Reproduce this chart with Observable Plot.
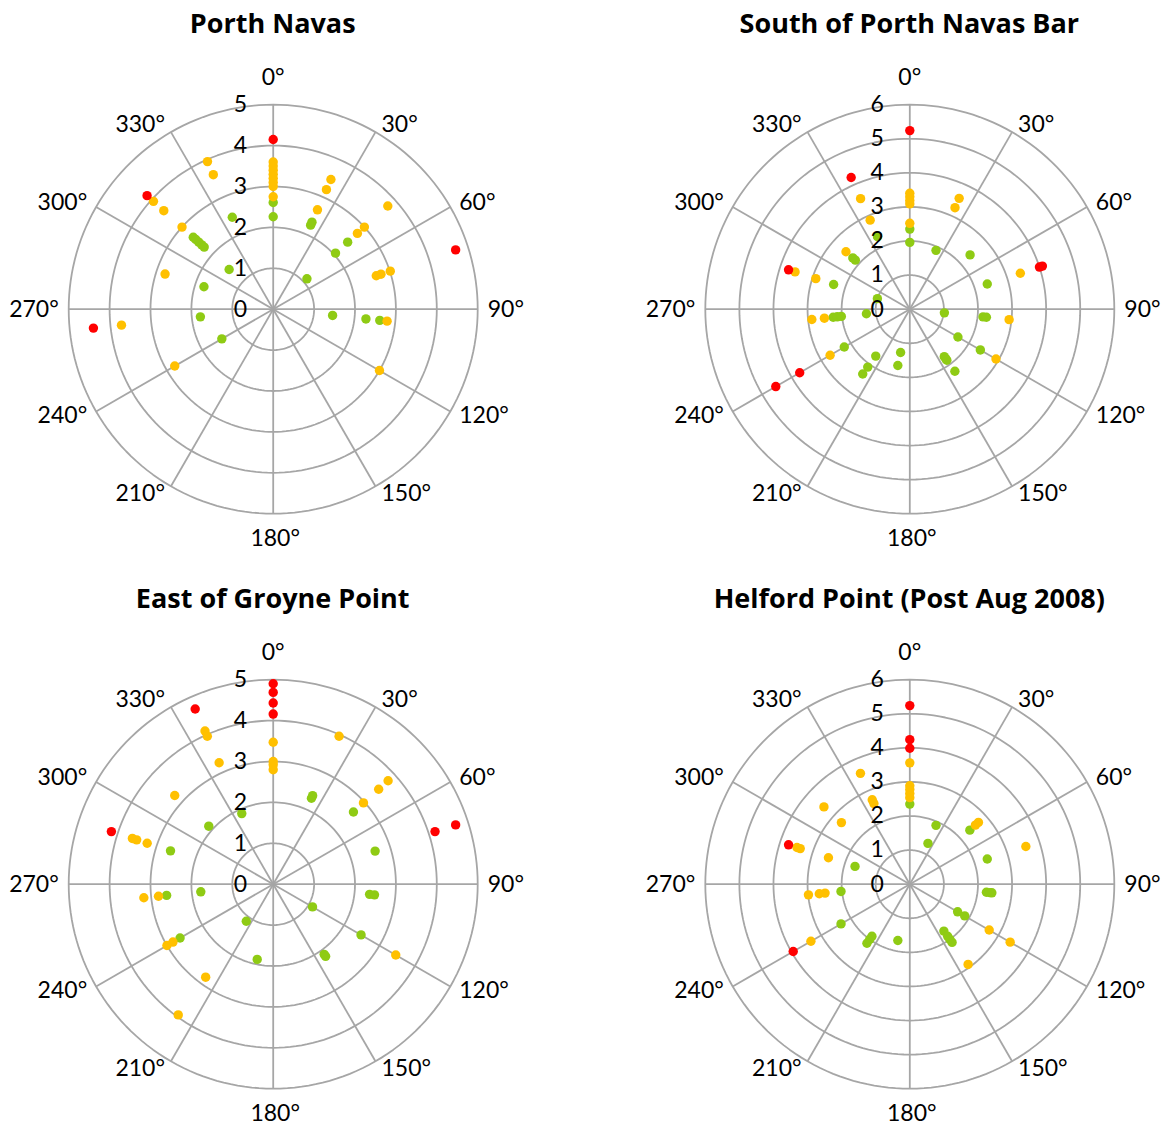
<!DOCTYPE html>
<html>
<head>
<meta charset="utf-8">
<script src="https://cdn.jsdelivr.net/npm/d3@7"></script>
<script src="https://cdn.jsdelivr.net/npm/@observablehq/plot@0.6"></script>
<style>
  html, body { margin: 0; padding: 0; background: #fff; overflow: hidden; }
  #root { position: relative; width: 1166px; height: 1126px; font-family: Lato, "Open Sans", sans-serif; }
  .title { position: absolute; width: 600px; text-align: center; font-family: "Open Sans", Lato, sans-serif; font-weight: bold; font-size: 27px; line-height: 30px; color: #000; }
  svg.panel { position: absolute; overflow: visible; }
</style>
</head>
<body>
<div id="root"></div>
<script>
// ---- Data: [direction in degrees, value] ----
const angleTicks = [0, 30, 60, 90, 120, 150, 180, 210, 240, 270, 300, 330];

const porthNavasRed = [[0,4.15],[312,4.15],[72,4.69],[264,4.42]];
const porthNavasAmber = [[0,3.6],[0,3.5],[0,3.4],[0,3.3],[0,3.2],[0,3.1],[0,3.0],[0,2.75],[336,3.95],[336,3.6],[312,3.94],[312,3.6],[312,3.0],[288,2.78],[264,3.73],[240,2.78],[120,3.0],[96,2.8],[72,2.65],[72,2.77],[72,3.01],[48,3.77],[48,3.0],[48,2.77],[24,3.47],[24,3.2],[24,2.66]];
const porthNavasGreen = [[0,2.61],[0,2.26],[336,2.46],[312,1.45],[312,2.63],[312,2.55],[312,2.45],[312,2.35],[312,2.27],[288,1.78],[264,1.79],[240,1.45],[48,1.11],[48,2.05],[48,2.45],[24,2.25],[24,2.33],[96,1.46],[96,2.28],[96,2.62]];

const southBarRed = [[0,5.24],[336,4.23],[288,3.74],[72,4.0],[72,4.09],[240,3.73],[240,4.54]];
const southBarAmber = [[0,3.4],[0,3.3],[0,3.19],[0,3.09],[0,2.52],[24,3.56],[24,3.26],[336,3.55],[336,2.86],[312,2.52],[288,3.54],[288,2.9],[264,2.89],[264,2.52],[240,2.7],[72,3.41],[96,2.93],[120,2.92]];
const southBarGreen = [[0,2.35],[0,1.96],[336,2.33],[312,2.25],[312,2.15],[288,2.35],[288,1.0],[24,1.89],[48,2.38],[72,2.39],[96,1.02],[96,2.16],[96,2.26],[120,1.63],[120,2.39],[144,1.72],[144,1.8],[144,1.85],[144,2.25],[192,1.3],[192,1.69],[216,1.7],[216,2.1],[216,2.35],[240,2.22],[264,1.28],[264,2.26],[264,2.14],[264,2.02]];

const eastGroyneRed = [[0,4.9],[0,4.69],[0,4.43],[0,4.16],[336,4.69],[288,4.16],[72,4.16],[72,4.69]];
const eastGroyneAmber = [[0,3.47],[0,3.0],[0,2.92],[0,2.8],[24,3.96],[48,3.78],[48,3.47],[48,2.97],[336,4.1],[336,3.96],[336,3.25],[312,3.24],[288,3.62],[288,3.51],[288,3.24],[264,3.18],[264,2.82],[240,3.0],[240,2.83],[216,2.81],[216,3.95],[120,3.46]];
const eastGroyneGreen = [[336,1.89],[312,2.12],[288,2.64],[264,2.62],[264,1.78],[240,2.63],[216,1.12],[192,1.88],[144,2.12],[144,2.18],[120,1.11],[120,2.48],[96,2.37],[96,2.49],[72,2.62],[48,2.64],[24,2.3],[24,2.37]];

const helfordRed = [[0,5.24],[0,4.24],[0,3.99],[288,3.74],[240,3.95]];
const helfordAmber = [[0,3.56],[0,2.89],[0,2.78],[0,2.66],[0,2.54],[48,2.71],[48,2.59],[72,3.58],[120,2.69],[120,3.4],[144,2.91],[336,3.56],[336,2.71],[336,2.59],[312,3.39],[312,2.7],[288,3.48],[288,3.38],[288,2.51],[264,2.99],[264,2.67],[264,2.5],[240,3.35]];
const helfordGreen = [[0,2.35],[24,1.89],[24,1.31],[48,2.37],[72,2.39],[96,2.26],[96,2.36],[96,2.42],[120,1.62],[120,1.86],[144,1.7],[144,1.89],[144,2.0],[144,2.11],[192,1.69],[216,1.89],[216,2.0],[216,2.14],[240,2.33],[264,2.03],[288,1.69]];

const panelTitles = ["Porth Navas", "South of Porth Navas Bar", "East of Groyne Point", "Helford Point (Post Aug 2008)"];
const panelMax = [5, 6, 5, 6];

// ---- Styles ----
const COLORS = {red: "#ff0000", amber: "#ffc000", green: "#8fcb14"};
const GRID = "#a6a6a6";
const FONT = "Lato, 'Open Sans', sans-serif";

const panels = [
  {title: panelTitles[0], max: panelMax[0], red: porthNavasRed, amber: porthNavasAmber, green: porthNavasGreen, col: 0, row: 0},
  {title: panelTitles[1], max: panelMax[1], red: southBarRed, amber: southBarAmber, green: southBarGreen, col: 1, row: 0},
  {title: panelTitles[2], max: panelMax[2], red: eastGroyneRed, amber: eastGroyneAmber, green: eastGroyneGreen, col: 0, row: 1},
  {title: panelTitles[3], max: panelMax[3], red: helfordRed, amber: helfordAmber, green: helfordGreen, col: 1, row: 1}
];

const centersX = [272.7, 909.3];
const centerY0 = 308.7;
const rowStep = 575;
const RAD = 204.5;
const SVG_TOP = 28, SVG_W = 583, SVG_H = 523;

const rad = (a) => a * Math.PI / 180;
const root = document.getElementById("root");

for (const p of panels) {
  const R = p.max;
  const K = RAD / R; // px per unit
  const gcx = centersX[p.col];
  const gcy = centerY0 + p.row * rowStep;
  const left = p.col * SVG_W;
  const top = p.row * rowStep + SVG_TOP;
  const lcx = gcx - left, lcy = gcy - top;

  const ticks = d3.range(0, R + 1);
  const rings = ticks.filter(t => t > 0).flatMap(t => d3.range(0, 361, 2).map(a => ({t, a})));
  const pts = (arr, cat) => arr.map(([a, r]) => ({a, r, cat}));
  const dots = [...pts(p.green, "green"), ...pts(p.amber, "amber"), ...pts(p.red, "red")];

  const vert = angleTicks.filter(a => a % 180 === 0);
  const rightSide = angleTicks.filter(a => a > 0 && a < 180);
  const leftSide = angleTicks.filter(a => a > 180);
  const lx = (a) => { const s = Math.sin(rad(a)); return R * s + Math.sign(s) * (2 + 8 * Math.abs(s)) / K; };
  const ly = (a) => { const c = Math.cos(rad(a)); const off = a === 0 ? 27 : a === 180 ? 24.5 : 9; return c * (R + off / K); };

  const svg = Plot.plot({
    width: SVG_W, height: SVG_H, margin: 0,
    style: {fontFamily: FONT, background: "transparent", color: "#000", overflow: "visible"},
    x: {domain: [-R, R], range: [lcx - RAD, lcx + RAD], axis: null},
    y: {domain: [-R, R], range: [lcy + RAD, lcy - RAD], axis: null},
    marks: [
      Plot.line(rings, {x: d => d.t * Math.sin(rad(d.a)), y: d => d.t * Math.cos(rad(d.a)), z: "t", stroke: GRID, strokeWidth: 1.8}),
      Plot.link(angleTicks, {x1: 0, y1: 0, x2: a => R * Math.sin(rad(a)), y2: a => R * Math.cos(rad(a)), stroke: GRID, strokeWidth: 1.8}),
      Plot.dot(dots, {x: d => d.r * Math.sin(rad(d.a)), y: d => d.r * Math.cos(rad(d.a)), fill: d => COLORS[d.cat], r: 4.7, stroke: null}),
      Plot.text(ticks, {x: 0, y: d => d, text: d => String(d), textAnchor: "end", dx: -26, fontSize: 23, fill: "#000"}),
      Plot.text(vert, {x: lx, y: ly, text: a => a + "°", textAnchor: "middle", fontSize: 23, fill: "#000"}),
      Plot.text(rightSide, {x: lx, y: ly, text: a => a + "°", textAnchor: "start", fontSize: 23, fill: "#000"}),
      Plot.text(leftSide, {x: lx, y: ly, text: a => a + "°", textAnchor: "end", fontSize: 23, fill: "#000"})
    ]
  });
  svg.classList.add("panel");
  svg.style.left = left + "px";
  svg.style.top = top + "px";
  root.appendChild(svg);

  const t = document.createElement("div");
  t.className = "title";
  t.textContent = p.title;
  t.style.left = (gcx - 300) + "px";
  t.style.top = (p.row * rowStep + 8) + "px";
  root.appendChild(t);
}
</script>
</body>
</html>
